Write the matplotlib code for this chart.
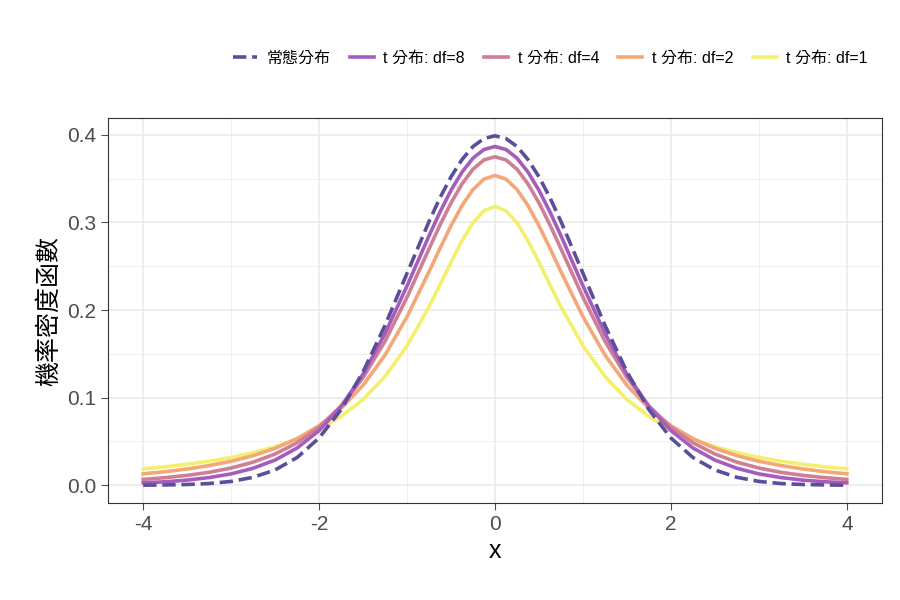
import numpy as np
import matplotlib.pyplot as plt
from matplotlib.ticker import MultipleLocator

plt.rcParams['font.family'] = ['Liberation Sans', 'Noto Sans CJK TC', 'DejaVu Sans']

# right half of each curve (mirrored for x < 0)
x_half = [0, 0.125, 0.25, 0.375, 0.5, 0.625, 0.75, 1, 1.25, 1.5, 1.75, 2, 2.25, 2.5, 2.75, 3, 3.25, 3.5, 3.75, 4]
normal = [.3989, .3958, .3867, .3718, .3521, .3282, .3011, .2420, .1826, .1295, .0863, .0540, .0317, .0175, .0091, .0044, .0020, .0009, .0004, .0001]
df8 = [.3867, .3833, .3734, .3575, .3367, .3120, .2848, .2276, .1733, .1268, .0899, .0624, .0426, .0288, .0194, .0130, .0088, .0059, .0040, .0028]
df4 = [.3750, .3714, .3608, .3440, .3223, .2971, .2699, .2147, .1644, .1229, .0905, .0663, .0485, .0357, .0264, .0197, .0148, .0113, .0087, .0067]
df2 = [.3536, .3495, .3376, .3193, .2963, .2705, .2438, .1925, .1487, .1141, .0878, .0680, .0533, .0422, .0338, .0274, .0225, .0186, .0155, .0131]
df1 = [.3183, .3134, .2996, .2791, .2546, .2289, .2037, .1592, .1242, .0979, .0785, .0637, .0524, .0439, .0372, .0318, .0275, .0240, .0211, .0187]

labels = ['常態分布', 't 分布: df=8', 't 分布: df=4', 't 分布: df=2', 't 分布: df=1']
colors = ['#5b4f9c', '#a75cbc', '#cf7f95', '#f2a878', '#f3f06e']


def full(v):
    return np.concatenate([v[:0:-1], v])


x = np.concatenate([-np.array(x_half[:0:-1]), x_half])

fig, ax = plt.subplots(figsize=(9, 6), dpi=100)
fig.subplots_adjust(left=0.12, right=0.98, top=0.803, bottom=0.162)

for i, (ys, lab, c) in enumerate(zip([normal, df8, df4, df2, df1], labels, colors)):
    ls = '--' if i == 0 else '-'
    ax.plot(x, full(ys), color=c, lw=2.6, ls=ls, label=lab, zorder=5 - i if i else 6,
            solid_joinstyle='round')

ax.set_xlim(-4.4, 4.4)
ax.set_ylim(-0.02, 0.419)
ax.set_xticks([-4, -2, 0, 2, 4])
ax.set_xticklabels(['-4', '-2', '0', '2', '4'])
ax.set_yticks([0, 0.1, 0.2, 0.3, 0.4])
ax.set_yticklabels(['0.0', '0.1', '0.2', '0.3', '0.4'])
ax.xaxis.set_minor_locator(MultipleLocator(1))
ax.yaxis.set_minor_locator(MultipleLocator(0.05))
ax.grid(which='major', color='#ebebeb', lw=1.2)
ax.grid(which='minor', color='#ebebeb', lw=0.6)
ax.set_axisbelow(True)
ax.tick_params(labelsize=15, colors='#4d4d4d', length=5)
ax.tick_params(which='minor', length=0)
for s in ax.spines.values():
    s.set_color('#333333')
ax.set_xlabel('x', fontsize=18)
ax.set_ylabel('機率密度函數', fontsize=18)

ax.legend(loc='lower right', bbox_to_anchor=(1.0, 1.1), ncol=5, frameon=False,
          fontsize=11.5, handlelength=1.5, columnspacing=1.2, handletextpad=0.6)

fig.savefig('out.png')
